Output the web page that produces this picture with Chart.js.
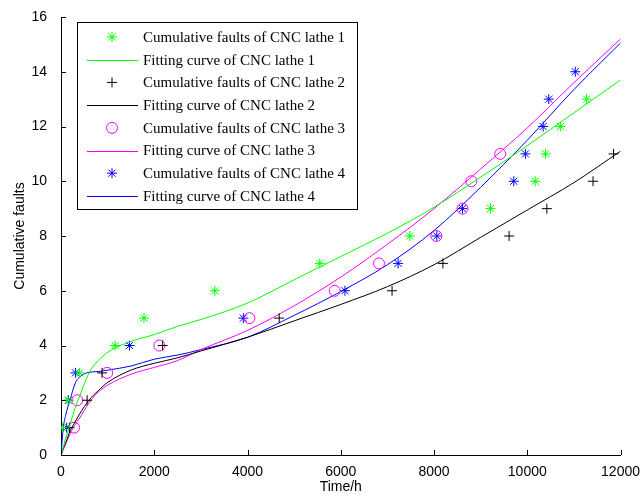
<!DOCTYPE html>
<html>
<head>
<meta charset="utf-8">
<script src="https://cdn.jsdelivr.net/npm/chart.js@4"></script>
<style>
	body { margin: 0; background: #fff; }
	#wrap { width: 641px; height: 498px; }
</style>
</head>
<body>
<div id="wrap"><canvas id="myChart" width="641" height="498"></canvas></div>
<script>
// observed cumulative faults (time in hours for fault 1, 2, 3 ...)
const lathe1Time = [30, 150, 400, 1160, 1780, 3300, 5550, 7480, 9210, 10170, 10390, 10710, 11270];
const lathe2Time = [180, 560, 880, 2180, 4680, 7100, 8190, 9610, 10420, 11410, 11850];
const lathe3Time = [280, 350, 990, 2110, 4040, 5870, 6820, 8050, 8610, 8800, 9420];
const lathe4Time = [120, 160, 310, 1470, 3910, 6090, 7230, 8060, 8610, 9710, 9960, 10340, 10460, 11030];

// fitted curves
const fitTime = [0, 50, 100, 200, 300, 400, 600, 800, 1000, 1500, 2000, 2500, 3000, 4000, 5000, 6000, 7000, 8000, 9000, 10000, 11000, 12000];
const fit1 = [0, 0.3, 0.6, 1.15, 1.7, 2.15, 3.0, 3.45, 3.75, 4.15, 4.4, 4.7, 4.95, 5.55, 6.4, 7.25, 8.1, 9.05, 10.15, 11.3, 12.5, 13.7];
const fit2 = [0, 0.25, 0.45, 0.9, 1.2, 1.5, 2.0, 2.35, 2.65, 3.1, 3.35, 3.55, 3.8, 4.3, 4.9, 5.5, 6.15, 6.95, 7.95, 8.95, 9.95, 11.1];
const fit3 = [0, 0.2, 0.4, 0.8, 1.1, 1.35, 1.9, 2.3, 2.55, 2.95, 3.2, 3.45, 3.85, 4.55, 5.45, 6.5, 7.7, 9.0, 10.45, 11.95, 13.6, 15.2];
const fit4 = [0, 1.0, 1.45, 2.05, 2.6, 2.85, 3.02, 3.05, 3.1, 3.25, 3.5, 3.65, 3.85, 4.3, 5.1, 5.97, 6.95, 8.2, 9.78, 11.5, 13.35, 15.05];

const labels = [
	'Cumulative faults of CNC lathe 1',
	'Fitting curve of CNC lathe 1',
	'Cumulative faults of CNC lathe 2',
	'Fitting curve of CNC lathe 2',
	'Cumulative faults of CNC lathe 3',
	'Fitting curve of CNC lathe 3',
	'Cumulative faults of CNC lathe 4',
	'Fitting curve of CNC lathe 4',
];

function points(times) {
	return times.map((t, i) => ({ x: t, y: i + 1 }));
}
function curve(ys) {
	return fitTime.map((t, i) => ({ x: t, y: ys[i] }));
}

function marks(label, times, color, style, r) {
	return {
		type: 'scatter',
		label: label,
		data: points(times),
		showLine: false,
		pointStyle: style,
		pointRadius: r,
		pointBorderColor: color,
		pointBackgroundColor: 'rgba(0,0,0,0)',
		pointBorderWidth: 1,
		borderColor: color,
	};
}
function fitLine(label, ys, color) {
	return {
		type: 'line',
		label: label,
		data: curve(ys),
		borderColor: color,
		borderWidth: 1,
		pointRadius: 0,
		cubicInterpolationMode: 'monotone',
		fill: false,
	};
}

const datasets = [
	marks(labels[0], lathe1Time, '#00ff00', 'star', 5),
	fitLine(labels[1], fit1, '#00ff00'),
	marks(labels[2], lathe2Time, '#000000', 'cross', 5),
	fitLine(labels[3], fit2, '#000000'),
	marks(labels[4], lathe3Time, '#ff00ff', 'circle', 5.5),
	fitLine(labels[5], fit3, '#ff00ff'),
	marks(labels[6], lathe4Time, '#0000ff', 'star', 5),
	fitLine(labels[7], fit4, '#0000ff'),
];

// inward tick marks like the original plot
const inTicks = {
	id: 'inTicks',
	afterDraw(chart) {
		const ctx = chart.ctx;
		const xs = chart.scales.x;
		const ys = chart.scales.y;
		const area = chart.chartArea;
		ctx.save();
		ctx.strokeStyle = '#000';
		ctx.lineWidth = 1;
		ctx.beginPath();
		xs.ticks.forEach(t => {
			const px = Math.round(xs.getPixelForValue(t.value)) + 0.5;
			ctx.moveTo(px, area.bottom);
			ctx.lineTo(px, area.bottom - 5);
		});
		ys.ticks.forEach(t => {
			const py = Math.round(ys.getPixelForValue(t.value)) + 0.5;
			ctx.moveTo(area.left, py);
			ctx.lineTo(area.left + 5, py);
		});
		ctx.stroke();
		ctx.restore();
	},
};

// boxed legend in the upper left, as in the original
const boxLegend = {
	id: 'boxLegend',
	afterDraw(chart) {
		const ctx = chart.ctx;
		const left = 77, top = 22, w = 280, h = 187;
		const rowH = 22.7;
		ctx.save();
		ctx.fillStyle = '#fff';
		ctx.fillRect(left, top, w, h);
		ctx.strokeStyle = '#000';
		ctx.lineWidth = 1;
		ctx.strokeRect(left + 0.5, top + 0.5, w, h);
		chart.data.datasets.forEach((ds, i) => {
			const y = top + 15 + i * rowH;
			if (ds.type === 'scatter') {
				ctx.strokeStyle = ds.pointBorderColor;
				ctx.fillStyle = 'rgba(0,0,0,0)';
				ctx.lineWidth = 1;
				Chart.helpers.drawPoint(ctx, { pointStyle: ds.pointStyle, radius: ds.pointRadius, rotation: 0, borderWidth: 1 }, 112, y);
			} else {
				ctx.strokeStyle = ds.borderColor;
				ctx.lineWidth = 1;
				ctx.beginPath();
				ctx.moveTo(87, Math.round(y) + 0.5);
				ctx.lineTo(138, Math.round(y) + 0.5);
				ctx.stroke();
			}
			ctx.fillStyle = '#000';
			ctx.font = '15px "Liberation Serif", "Times New Roman", serif';
			ctx.textBaseline = 'middle';
			ctx.fillText(ds.label, 143, y + 1);
		});
		ctx.restore();
	},
};

const config = {
	data: { datasets: datasets },
	options: {
		responsive: false,
		animation: false,
		layout: { padding: { left: 0, top: 17, right: 20, bottom: 0 } },
		plugins: { legend: { display: false }, tooltip: { enabled: false } },
		scales: {
			x: {
				type: 'linear',
				min: 0,
				max: 12000,
				ticks: { stepSize: 2000, color: '#000', font: { family: '"Liberation Sans", Arial', size: 14 }, padding: 1, maxRotation: 0, callback: v => String(v) },
				grid: { display: false },
				border: { display: true, color: '#000', width: 1 },
				title: { display: true, text: 'Time/h', color: '#000', font: { family: '"Liberation Sans", Arial', size: 14 }, padding: { top: 0, bottom: 2 } },
				afterFit(scale) { scale.height = 43; },
			},
			y: {
				type: 'linear',
				min: 0,
				max: 16,
				ticks: { stepSize: 2, color: '#000', font: { family: '"Liberation Sans", Arial', size: 14 }, padding: 6, callback: v => String(v) },
				grid: { display: false },
				border: { display: true, color: '#000', width: 1 },
				title: { display: true, text: 'Cumulative faults', color: '#000', font: { family: '"Liberation Sans", Arial', size: 14 }, padding: { top: 12, bottom: 0 } },
				afterFit(scale) { scale.width = 61; },
			},
		},
	},
	plugins: [inTicks, boxLegend],
};

const myChart = new Chart(document.getElementById('myChart'), config);
</script>
</body>
</html>
